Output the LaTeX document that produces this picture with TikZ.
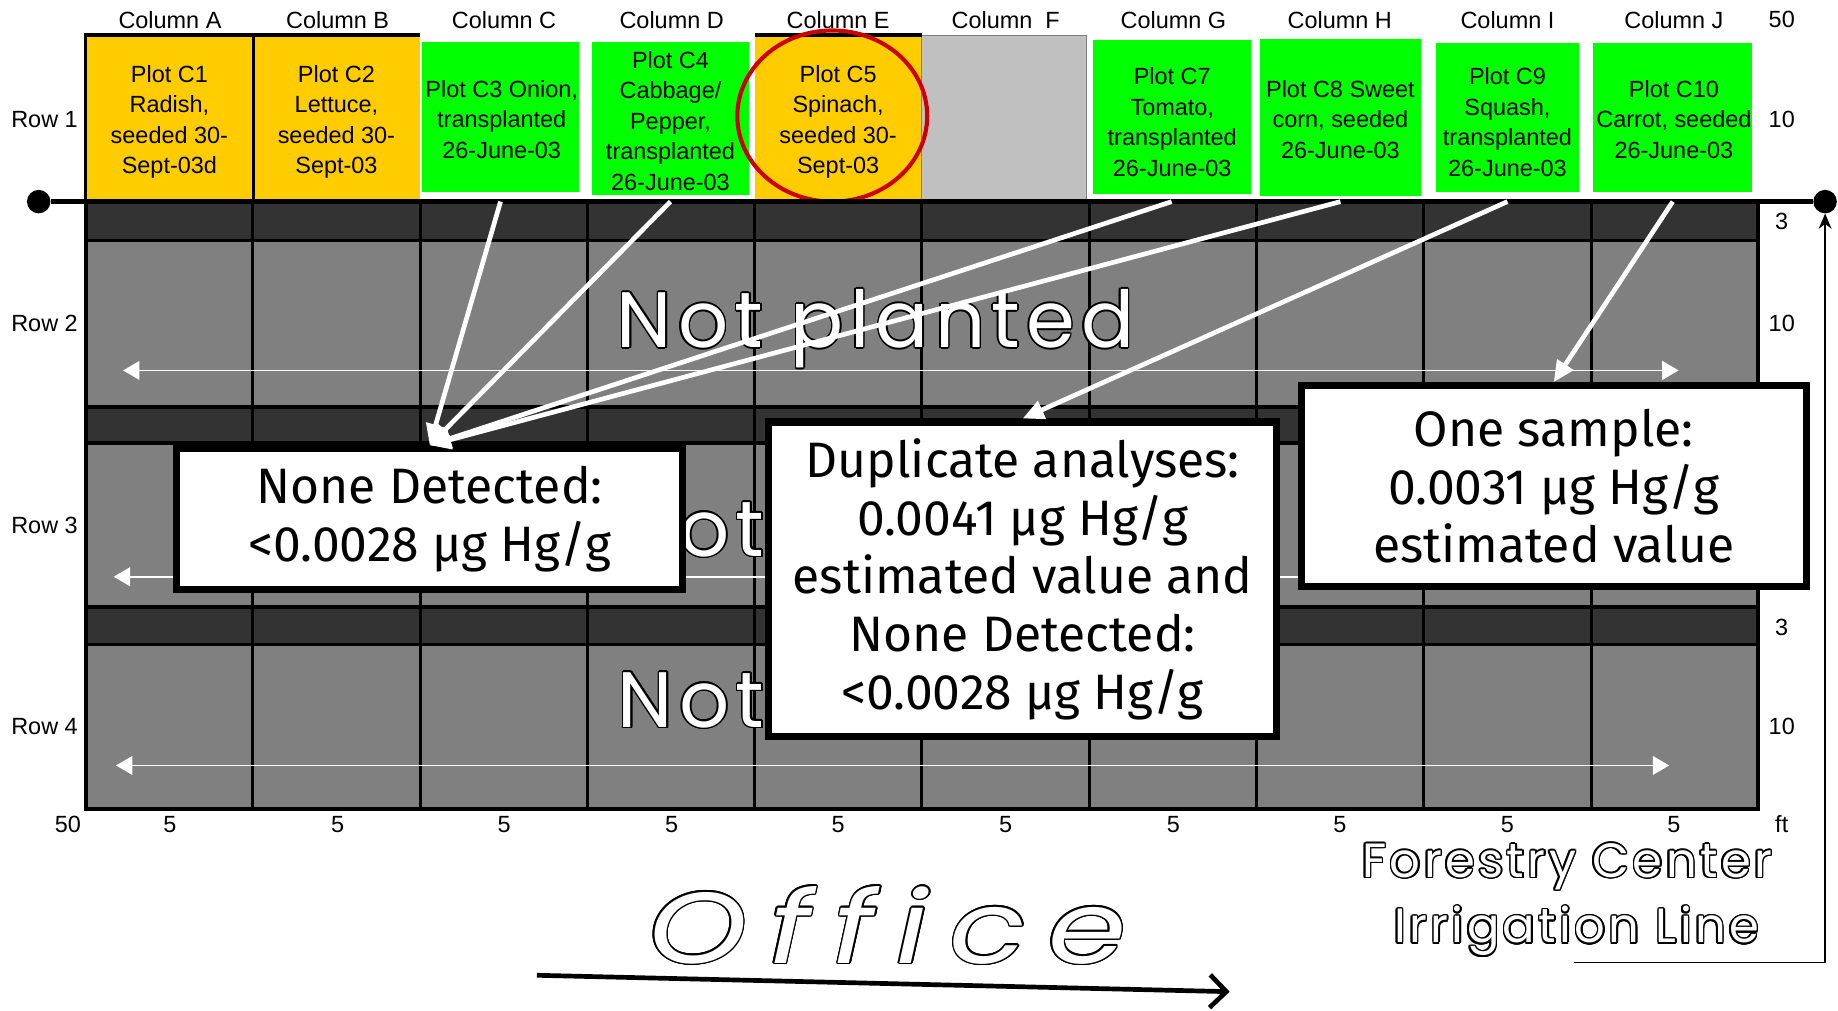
\documentclass[tikz,border=0pt]{standalone}
\usepackage{fontspec}
\setmainfont{Liberation Sans}
\newfontfamily\calloutfont{Fira Sans}
\newfontfamily\outfont[LetterSpace=8]{Poppins}
\newfontfamily\officefont[LetterSpace=22,FakeStretch=1.25,Ligatures=NoCommon]{Poppins}
\newfontfamily\forestfont[LetterSpace=7]{Poppins}
\usepackage[copies]{contour}
\contourlength{1.3pt}
\usetikzlibrary{arrows.meta,shapes.geometric,calc}
\definecolor{plotyellow}{HTML}{FFCC00}
\definecolor{plotgreen}{HTML}{00FF00}
\definecolor{stripdark}{HTML}{333333}
\definecolor{rowgray}{HTML}{808080}
\definecolor{fallow}{HTML}{C0C0C0}
\definecolor{circred}{HTML}{CC0000}
\begin{document}
\begin{tikzpicture}[x=1pt,y=-1pt,
  lbl/.style={font=\fontsize{20}{26}\selectfont, inner sep=0pt, align=center},
  plotbox/.style={draw=none, inner sep=0pt},
  plottext/.style={lbl, yshift=-3pt},
  gridline/.style={line width=2.5},
  rowarrow/.style={white, line width=1.5, {Triangle[length=14,width=16]}-{Triangle[length=14,width=16]}},
  pointer/.style={white, line width=4, -{Triangle[length=18,width=16]}},
  callout/.style={draw=black, fill=white, line width=6, inner sep=0pt, align=center,
     font=\calloutfont\fontsize{42.5}{49.5}\selectfont},
  nptext/.style={text=white, inner sep=0pt, font=\outfont\fontsize{67}{67}\selectfont},
  forest/.style={text=white, inner sep=0pt, font=\forestfont\fontsize{41}{41}\selectfont},
  dot/.style={circle, fill=black, minimum size=20, inner sep=0pt}
]
\useasboundingbox (0,0) rectangle (1568,862);
\fill[white] (0,0) rectangle (1568,862);

% ---- grid rows ----
\fill[stripdark] (73,172) rectangle (1500,205);
\fill[rowgray]   (73,205) rectangle (1500,347);
\fill[stripdark] (73,347) rectangle (1500,378);
\fill[rowgray]   (73,378) rectangle (1500,518);
\fill[stripdark] (73,518) rectangle (1500,550);
\fill[rowgray]   (73,550) rectangle (1500,690);
\foreach \i in {1,...,9} \draw[gridline] ({73+142.7*\i},172) -- ({73+142.7*\i},690);
\foreach \yy in {205,347,378,518,550} \draw[line width=3] (73,\yy) -- (1500,\yy);
\draw[line width=3.5] (73,172) rectangle (1500,690);

% ---- labels ----
\foreach \n/\xx in {A/145,B/288,C/430,D/573,E/715,G/1001,H/1143,I/1286,J/1428}
  \node[lbl] (col\n) at (\xx,17) {Column \n};
\node[lbl] (colF) at (858,17) {Column\ \ F};
\foreach \r/\yy in {1/102,2/276,3/448,4/620}
  \node[lbl] (row\r) at (38,\yy) {Row \r};
\foreach \t/\yy [count=\k] in {50/17,10/102,3/189,10/276,3/535,10/620,ft/703}
  \node[lbl] (rl\k) at (1520,\yy) {\t};
\node[lbl] (bl0) at (58,703) {50};
\foreach \xx [count=\k] in {145,288,430,573,715,858,1001,1143,1286,1428}
  \node[lbl] (bl\k) at (\xx,703) {5};

% ---- row 1 plots ----
\node[plotbox, fill=plotyellow, minimum width=143, minimum height=142] (c1) at (144.5,101) {};
\node[plotbox, fill=plotyellow, minimum width=142, minimum height=142] (c2) at (287,101) {};
\node[plotbox, fill=plotgreen, minimum width=134, minimum height=128] (c3) at (427,100) {};
\node[plotbox, fill=plotgreen, minimum width=134, minimum height=130] (c4) at (572,101) {};
\node[plotbox, fill=plotyellow, minimum width=142, minimum height=142] (c5) at (715,101) {};
\node[draw=rowgray, fill=fallow, line width=1, minimum width=141, minimum height=142, inner sep=0pt] (c6) at (856.5,101) {};
\node[plotbox, fill=plotgreen, minimum width=135, minimum height=131] (c7) at (999.5,100) {};
\node[plotbox, fill=plotgreen, minimum width=137, minimum height=134] (c8) at (1143.5,100) {};
\node[plotbox, fill=plotgreen, minimum width=122, minimum height=127] (c9) at (1286,100) {};
\node[plotbox, fill=plotgreen, minimum width=136, minimum height=127] (c10) at (1427,100) {};
\node[plottext] (t1) at (144.5,101) {Plot C1\\Radish,\\seeded 30-\\Sept-03d};
\node[plottext] (t2) at (287,101) {Plot C2\\Lettuce,\\seeded 30-\\Sept-03};
\node[plottext] (t3) at (428,99) {Plot C3 Onion,\\transplanted\\26-June-03};
\node[plottext] (t4) at (572,100) {Plot C4\\Cabbage/\\Pepper,\\transplanted\\26-June-03};
\node[plottext] (t5) at (715,101) {Plot C5\\Spinach,\\seeded 30-\\Sept-03};
\node[plottext] (t7) at (1000,101) {Plot C7\\Tomato,\\transplanted\\26-June-03};
\node[plottext] (t8) at (1143.5,99) {Plot C8 Sweet\\corn, seeded\\26-June-03};
\node[plottext] (t9) at (1286,101) {Plot C9\\Squash,\\transplanted\\26-June-03};
\node[plottext] (t10) at (1428,99) {Plot C10\\Carrot, seeded\\26-June-03};
\draw[line width=3] (c1.south west) -- (c1.north west) -- (c2.north east);
\draw[line width=2.5] (c1.north east) -- (c1.south east);
\draw[line width=3] (c5.north west) -- (c5.north east);
\node[ellipse, draw=circred, line width=3.5, minimum width=162, minimum height=146, inner sep=0pt] (ring) at (710,99) {};

% ---- main line ----
\node[dot] (dotL) at (33,172) {};
\node[dot] (dotR) at (1557,172) {};
\draw[line width=4] (dotL) -- (dotR);

% ---- irrigation line ----
\coordinate (irrB) at (1557,821);
\coordinate (irrE) at (1343,821);
\draw[line width=1.5, -{Stealth[length=13,width=11]}] (irrE) -- (irrB) -- (dotR.south);

% ---- not planted ----
\node[nptext] (np2) at (747,281) {\contour{black}{Not planted}};
\node[nptext, anchor=west] (np3) at (527,452) {\contour{black}{Not}};
\node[nptext, anchor=west] (np4) at (527,598) {\contour{black}{Not}};
\coordinate (r2l) at (105,316); \coordinate (r2r) at (1432,316);
\coordinate (r3l) at (97,492);  \coordinate (r3r) at (1430,492);
\coordinate (r4l) at (99,653);  \coordinate (r4r) at (1424,653);
\draw[rowarrow] (r2l) -- (r2r);
\draw[rowarrow] (r3l) -- (r3r);
\draw[rowarrow] (r4l) -- (r4r);

% ---- callouts ----
\node[callout, minimum width=432, minimum height=120] (nd) at (366.6,442.8) {None Detected:\\<0.0028 μg Hg/g};
\node[callout, minimum width=433, minimum height=268] (dup) at (872.5,494) {Duplicate analyses:\\0.0041 μg Hg/g\\estimated value and\\None Detected:\\<0.0028 μg Hg/g};
\node[callout, minimum width=431, minimum height=171] (one) at (1325.5,414.5) {One sample:\\0.0031 μg Hg/g\\estimated value};

% ---- pointers ----
\draw[pointer] (c3.south |- dotL) -- (nd.north);
\draw[pointer] (c4.south |- dotL) -- (nd.north);
\draw[pointer] (c7.south |- dotL) -- (nd.north);
\draw[pointer] (c8.south |- dotL) -- (nd.north);
\draw[pointer] (c9.south |- dotL) -- (dup.north);
\draw[pointer] (c10.south |- dotL) -- (one.north);

% ---- office ----
\node[text=white, inner sep=0pt, font=\officefont\itshape\fontsize{86}{86}\selectfont] (office) at (757,790) {\contour{black}{Office}};
\coordinate (oa) at (458,832); \coordinate (ob) at (1049,846);
\draw[line width=4, -{Straight Barb[length=14,width=28]}] (oa) -- (ob);

% ---- forestry ----
\node[forest] (fc1) at (1337,740) {\contour{black}{Forestry Center}};
\node[forest] (fc2) at (1345,795) {\contour{black}{Irrigation Line}};
\end{tikzpicture}
\end{document}
